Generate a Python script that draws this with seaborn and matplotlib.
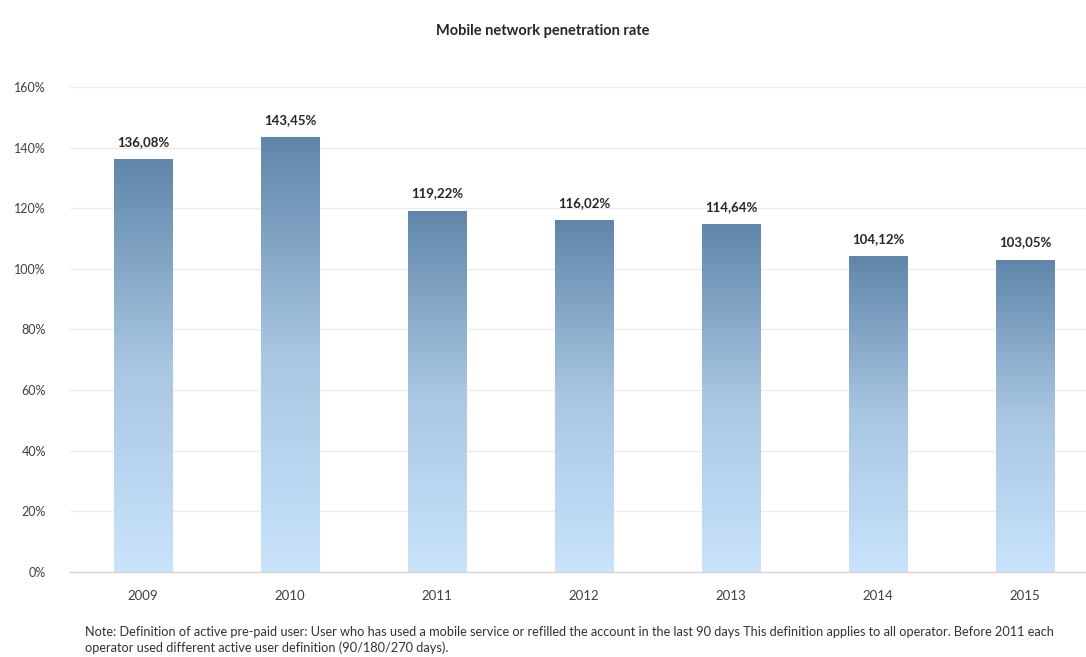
import numpy as np
import pandas as pd
import matplotlib
matplotlib.use("Agg")
import matplotlib.pyplot as plt
from matplotlib.colors import LinearSegmentedColormap
import seaborn as sns

years = ["2009", "2010", "2011", "2012", "2013", "2014", "2015"]
penetration = [136.08, 143.45, 119.22, 116.02, 114.64, 104.12, 103.05]
y_ticks = [0, 20, 40, 60, 80, 100, 120, 140, 160]

title = "Mobile network penetration rate"
note = ("Note: Definition of active pre-paid user: User who has used a mobile service or refilled the "
        "account in the last 90 days This definition applies to all operator. Before 2011 each\n"
        "operator used different active user definition (90/180/270 days).")

sns.set_theme(style="white")
plt.rcParams["font.family"] = ["Lato", "DejaVu Sans"]

df = pd.DataFrame({"year": years, "rate": penetration})

fig = plt.figure(figsize=(10.86, 6.57), dpi=100)
ax = fig.add_axes([0.064, 0.1294, 0.936, 0.7382])

sns.barplot(data=df, x="year", y="rate", ax=ax, width=0.4, color="#8fb0d0",
            edgecolor="none", saturation=1)

# vertical gradient fill clipped to each bar
cmap = LinearSegmentedColormap.from_list("bar", ["#c9e3fb", "#a9c6e2", "#5f86aa"])
grad = np.linspace(0, 1, 256).reshape(-1, 1)
for patch in ax.patches:
    x0, y0 = patch.get_x(), patch.get_y()
    w, h = patch.get_width(), patch.get_height()
    patch.set_facecolor("none")
    im = ax.imshow(grad, cmap=cmap, origin="lower", aspect="auto",
                   extent=[x0, x0 + w, y0, y0 + h], zorder=2)
    im.set_clip_path(patch)

ax.set_xlim(-0.5, 6.415)
ax.set_ylim(0, 160)
ax.set_yticks(y_ticks)
ax.set_yticklabels([f"{t}%" for t in y_ticks])
ax.yaxis.grid(True, color="#ececec", linewidth=1)
ax.set_axisbelow(True)
ax.set_xlabel("")
ax.set_ylabel("")
ax.tick_params(axis="y", length=0, pad=17, labelsize=9, labelcolor="#404040")
ax.tick_params(axis="x", length=0, pad=13, labelsize=9.5, labelcolor="#404040")
for s in ["top", "right", "left"]:
    ax.spines[s].set_visible(False)
ax.spines["bottom"].set_color("#d4d4d4")
ax.spines["bottom"].set_linewidth(1)

for i, v in enumerate(penetration):
    ax.annotate(f"{v:.2f}%".replace(".", ","), xy=(i, v), xytext=(0, 8),
                textcoords="offset points", ha="center", va="bottom",
                fontsize=9.5, fontweight="bold", color="#262626")

fig.text(0.5, 0.953, title, ha="center", va="center", fontsize=10.5,
         fontweight="bold", color="#262626")
fig.text(0.078, 0.026, note, ha="left", va="center", fontsize=9.2,
         color="#333333", linespacing=1.3)

fig.savefig("out.png", dpi=100, facecolor="white")
